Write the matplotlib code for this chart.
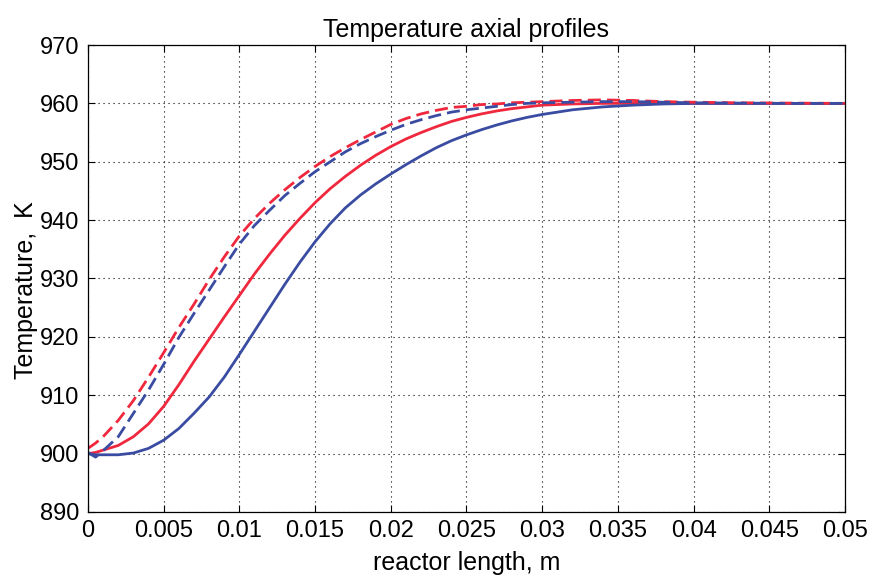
import matplotlib
matplotlib.use("Agg")
import matplotlib.pyplot as plt
from matplotlib import font_manager as fm

# axial position, m
x = [0, 0.0005, 0.001, 0.002, 0.003, 0.004, 0.005, 0.006, 0.007, 0.008, 0.009,
     0.010, 0.011, 0.012, 0.013, 0.014, 0.015, 0.016, 0.017, 0.018, 0.019,
     0.020, 0.021, 0.022, 0.023, 0.024, 0.025, 0.026, 0.027, 0.028, 0.029,
     0.030, 0.032, 0.034, 0.036, 0.038, 0.040, 0.043, 0.046, 0.050]

# temperature profiles, K
red_solid = [900.0, 900.2, 900.6, 901.4, 902.9, 905.1, 908.1, 911.8, 915.8, 919.6, 923.4,
             927.1, 930.8, 934.2, 937.4, 940.3, 943.0, 945.4, 947.5, 949.4, 951.1,
             952.6, 953.9, 955.0, 956.0, 956.9, 957.6, 958.2, 958.7, 959.1, 959.4,
             959.7, 959.9, 960.0, 960.0, 960.0, 960.0, 960.0, 960.0, 960.0]
blue_solid = [900.0, 899.8, 899.8, 899.8, 900.1, 900.9, 902.3, 904.3, 906.9, 909.7, 913.1,
              917.0, 921.0, 925.0, 929.0, 932.8, 936.3, 939.4, 942.1, 944.3, 946.2,
              947.9, 949.5, 951.0, 952.4, 953.6, 954.6, 955.5, 956.3, 957.0, 957.6,
              958.1, 958.9, 959.4, 959.7, 959.9, 960.0, 960.0, 960.0, 960.0]
red_dashed = [900.9, 901.8, 902.9, 905.7, 909.1, 913.1, 917.3, 921.6, 925.6, 929.8, 933.7,
              937.3, 940.3, 942.9, 945.2, 947.3, 949.2, 950.9, 952.4, 953.8, 955.1,
              956.4, 957.4, 958.2, 958.8, 959.3, 959.5, 959.8, 959.9, 960.1, 960.2,
              960.3, 960.5, 960.6, 960.5, 960.3, 960.2, 960.1, 960.05, 960.0]
blue_dashed = [900.2, 899.4, 900.5, 902.9, 906.9, 910.9, 915.3, 919.9, 924.0, 928.0, 932.0,
               935.9, 939.1, 941.7, 944.2, 946.3, 948.3, 950.0, 951.7, 953.1, 954.3,
               955.4, 956.4, 957.2, 957.9, 958.5, 958.9, 959.2, 959.5, 959.8, 960.0,
               960.1, 960.2, 960.3, 960.3, 960.2, 960.1, 960.05, 960.0, 960.0]

x_ticks = [0, 0.005, 0.01, 0.015, 0.02, 0.025, 0.03, 0.035, 0.04, 0.045, 0.05]
x_tick_labels = ["0", "0.005", "0.01", "0.015", "0.02", "0.025", "0.03", "0.035", "0.04", "0.045", "0.05"]
y_ticks = [890, 900, 910, 920, 930, 940, 950, 960, 970]

installed = {f.name for f in fm.fontManager.ttflist}
fams = [f for f in ["Liberation Sans Narrow", "Liberation Sans", "DejaVu Sans"] if f in installed]
plt.rcParams["font.family"] = fams

RED = "#f0283e"
BLUE = "#3a4ca2"

fig = plt.figure(figsize=(8.73, 5.83), dpi=100)
ax = fig.add_axes([0.1008, 0.1218, 0.8671, 0.801])

ax.plot(x, red_solid, color=RED, lw=2.0)
ax.plot(x, blue_solid, color=BLUE, lw=2.0)
ax.plot(x, red_dashed, color=RED, lw=2.0, dashes=(4.7, 2.2))
ax.plot(x, blue_dashed, color=BLUE, lw=2.0, dashes=(4.7, 2.2))

ax.set_xlim(0, 0.05)
ax.set_ylim(890, 970)
ax.set_xticks(x_ticks)
ax.set_xticklabels(x_tick_labels)
ax.set_yticks(y_ticks)
ax.tick_params(direction="in", top=True, right=True, labelsize=17, length=5, width=0.8)
ax.tick_params(axis="x", pad=6)
ax.tick_params(axis="y", pad=6)
ax.grid(True, color="black", linestyle=(0, (1, 3.5)), linewidth=0.8)
for s in ax.spines.values():
    s.set_linewidth(0.9)

ax.set_title("Temperature axial profiles", fontsize=18, pad=6)
ax.set_xlabel("reactor length, m", fontsize=18, labelpad=6)
ax.set_ylabel("Temperature,  K", fontsize=18)
ax.yaxis.set_label_coords(-0.066, 0.475)

fig.savefig("out.png", dpi=100)
